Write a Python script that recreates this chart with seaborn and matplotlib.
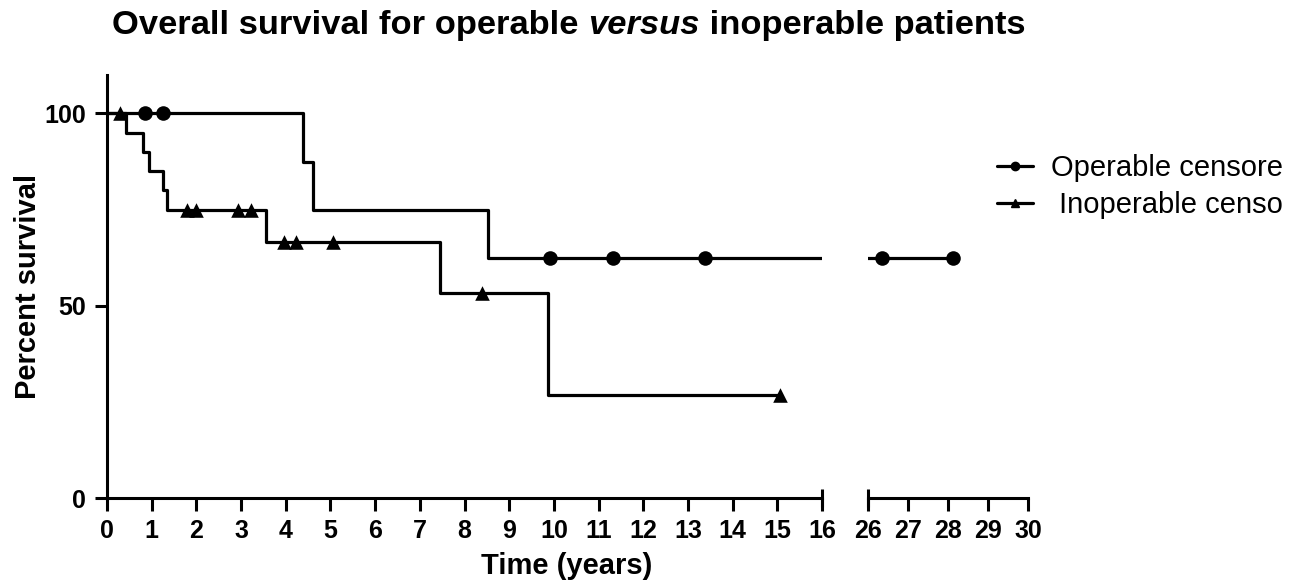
import matplotlib
matplotlib.use("Agg")
import matplotlib.pyplot as plt
import matplotlib.transforms as mtransforms
from matplotlib.lines import Line2D
import seaborn as sns
import pandas as pd
import numpy as np

# Kaplan-Meier steps
op_time = [0, 4.38, 4.6, 8.52, 28.13]
op_surv = [100, 87.5, 75, 62.5, 62.5]
op_cens_time = [0.85, 1.25, 9.91, 11.32, 13.38, 26.35, 28.13]
op_cens_surv = [100, 100, 62.5, 62.5, 62.5, 62.5, 62.5]

inop_time = [0, 0.42, 0.81, 0.94, 1.25, 1.34, 3.56, 7.45, 9.87, 15.06]
inop_surv = [100, 95, 90, 85, 80, 75, 66.7, 53.3, 26.7, 26.7]
inop_cens_time = [0.3, 1.78, 2.0, 2.93, 3.22, 3.96, 4.23, 5.06, 8.39, 15.06]
inop_cens_surv = [100, 75, 75, 75, 75, 66.7, 66.7, 66.7, 53.3, 26.7]

left_ticks = list(range(0, 17))
right_ticks = [26, 27, 28, 29, 30]
y_ticks = [0, 50, 100]

sns.set_theme(style="ticks")
plt.rcParams["font.family"] = ["Liberation Sans", "DejaVu Sans"]
plt.rcParams.update({
    "axes.linewidth": 2.2,
    "axes.edgecolor": "black",
    "text.color": "black",
    "axes.labelcolor": "black",
    "xtick.color": "black",
    "ytick.color": "black",
})

W, H = 1298, 586
fig = plt.figure(figsize=(W / 100, H / 100), dpi=100)

ax1 = fig.add_axes([107 / W, 1 - 498 / H, (822 - 107) / W, (498 - 75) / H])
ax2 = fig.add_axes([868 / W, 1 - 498 / H, (1028 - 868) / W, (498 - 75) / H], sharey=ax1)

lw = 2.3
for ax in (ax1, ax2):
    sns.lineplot(x=op_time, y=op_surv, drawstyle="steps-post", sort=False, estimator=None,
                 color="black", linewidth=lw, ax=ax)
    sns.lineplot(x=inop_time, y=inop_surv, drawstyle="steps-post", sort=False, estimator=None,
                 color="black", linewidth=lw, ax=ax)
    sns.scatterplot(x=op_cens_time, y=op_cens_surv, marker="o", s=110, color="black",
                    edgecolor="black", linewidth=0, ax=ax, zorder=5)
    sns.scatterplot(x=inop_cens_time, y=inop_cens_surv, marker="^", s=110, color="black",
                    edgecolor="black", linewidth=0, ax=ax, zorder=5)
    ax.set_ylim(0, 110)
    for s in ("top", "right"):
        ax.spines[s].set_visible(False)
    ax.tick_params(axis="both", which="major", length=9, width=2.2, color="black",
                   labelsize=18, pad=6)
    ax.set_xlabel("")
    ax.set_ylabel("")

ax1.set_xlim(0, 16)
ax1.set_xticks(left_ticks)
ax1.set_yticks(y_ticks)
ax1.spines["left"].set_bounds(0, 110)
ax1.set_xticklabels([str(t) for t in left_ticks], fontweight="bold", fontsize=18)
ax1.set_yticklabels([str(t) for t in y_ticks], fontweight="bold", fontsize=18)

ax2.set_xlim(26, 30)
ax2.set_xticks(right_ticks)
ax2.set_xticklabels([str(t) for t in right_ticks], fontweight="bold", fontsize=18)
ax2.spines["left"].set_visible(False)
ax2.tick_params(axis="y", left=False, labelleft=False)

# break caps at 16 and 26
for ax, xv in ((ax1, 16), (ax2, 26)):
    tr = mtransforms.blended_transform_factory(ax.transData, ax.transAxes)
    ax.add_line(Line2D([xv, xv], [-0.022, 0.022], transform=tr, color="black",
                       linewidth=2.2, clip_on=False, solid_capstyle="butt"))

ax1.set_ylabel("Percent survival", fontsize=21, fontweight="bold", labelpad=2)
fig.text(567 / W, 1 - 566 / H, "Time (years)", ha="center", va="center",
         fontsize=21, fontweight="bold")

# title with italic "versus"
renderer = fig.canvas.get_renderer()
x = 112
parts = [("Overall survival for operable ", "normal"), ("versus", "italic"),
         (" inoperable patients", "normal")]
for txt, style in parts:
    t = fig.text(x / W, 1 - 34 / H, txt, fontsize=24.8, fontweight="bold", style=style,
                 ha="left", va="baseline")
    bb = t.get_window_extent(renderer)
    x += bb.width

handles = [
    Line2D([], [], color="black", linewidth=lw, marker="o", markersize=6),
    Line2D([], [], color="black", linewidth=lw, marker="^", markersize=6),
]
# the legend in the source figure is cut at its right side
leg = fig.legend(handles, ["Operable censored", " Inoperable censored"],
                 loc="upper left", bbox_to_anchor=(997 / W, 1 - 154 / H),
                 frameon=False, fontsize=21, handlelength=1.23, handletextpad=0.62,
                 labelspacing=0.3, borderpad=0, borderaxespad=0)
clip = mtransforms.Bbox.from_extents(0, 0, 1282, H)
for t in leg.get_texts():
    t.set_clip_box(clip)
    t.set_clip_on(True)

fig.savefig("out.png", dpi=100)
